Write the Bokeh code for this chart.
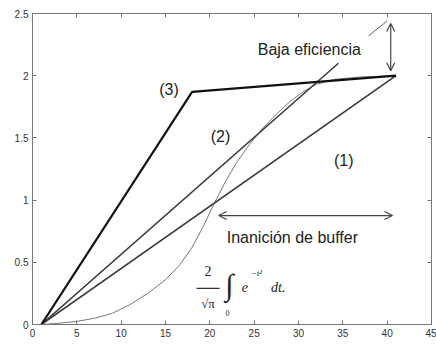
from bokeh.plotting import figure
from bokeh.models import (Range1d, FixedTicker, LinearAxis, CustomJSTickFormatter,
                          Label, Arrow, OpenHead)
from bokeh.embed import file_html
from bokeh.resources import INLINE

# ---- data ----
line1_x = [1, 41]
line1_y = [0, 2.0]
line2_x = [1, 34.5]
line2_y = [0, 2.1]
line3_x = [1, 18, 41]
line3_y = [0, 1.87, 2.0]
erf_x = [1, 3, 5, 7, 9, 11, 13, 15, 16.5, 18, 19.2, 20.4, 21.7, 23, 24.5, 26, 27.5, 29, 30.5, 32, 34, 37, 41]
erf_y = [0, 0.01, 0.025, 0.05, 0.09, 0.16, 0.25, 0.36, 0.47, 0.62, 0.78, 0.96, 1.14, 1.30, 1.45, 1.58, 1.69, 1.79, 1.87, 1.93, 1.97, 1.99, 2.0]
x_ticks = [0, 5, 10, 15, 20, 25, 30, 35, 40, 45]
y_ticks = [0, 0.5, 1, 1.5, 2, 2.5]

FRAME = "#777777"
TXT = "#222222"

p = figure(width=436, height=345, output_backend="svg", toolbar_location=None,
           x_range=Range1d(0, 45), y_range=Range1d(0, 2.5),
           min_border_left=32, min_border_right=5, min_border_top=13, min_border_bottom=21)
p.grid.visible = False
p.outline_line_color = FRAME
p.background_fill_color = "white"
p.border_fill_color = "white"

for ax in p.xaxis:
    ax.ticker = FixedTicker(ticks=x_ticks)
for ax in p.yaxis:
    ax.ticker = FixedTicker(ticks=y_ticks)
    ax.formatter = CustomJSTickFormatter(code="return tick.toString();")

def style(ax):
    ax.axis_line_color = FRAME
    ax.major_tick_line_color = FRAME
    ax.major_tick_in = 4
    ax.major_tick_out = 0
    ax.minor_tick_line_color = None
    ax.major_label_text_font = "Liberation Sans"
    ax.major_label_text_font_size = "10px"
    ax.major_label_text_color = "#333333"
    ax.major_label_standoff = 4

for ax in p.xaxis + p.yaxis:
    style(ax)

top = LinearAxis(ticker=FixedTicker(ticks=x_ticks), formatter=CustomJSTickFormatter(code="return '';"))
right = LinearAxis(ticker=FixedTicker(ticks=y_ticks), formatter=CustomJSTickFormatter(code="return '';"))
for ax in (top, right):
    style(ax)
    ax.major_label_standoff = 0
p.add_layout(top, "above")
p.add_layout(right, "right")

# curves
p.line(erf_x, erf_y, line_color="#777777", line_width=1.0)
p.line(line1_x, line1_y, line_color="#3a3a3a", line_width=1.6)
p.line(line2_x, line2_y, line_color="#3a3a3a", line_width=1.6)
p.line(line3_x, line3_y, line_color="#111111", line_width=2.2)

# annotations: arrows
p.add_layout(Arrow(start=OpenHead(size=8, line_color="#444444", line_width=1.2),
                   end=OpenHead(size=8, line_color="#444444", line_width=1.2),
                   x_start=40.4, y_start=2.04, x_end=40.4, y_end=2.42,
                   line_color="#444444", line_width=1.2))
p.add_layout(Arrow(start=OpenHead(size=8, line_color="#444444", line_width=1.2),
                   end=OpenHead(size=8, line_color="#444444", line_width=1.2),
                   x_start=21.0, y_start=0.876, x_end=40.6, y_end=0.876,
                   line_color="#444444", line_width=1.2))
p.line([37.9, 40.0], [2.32, 2.44], line_color="#666666", line_width=1)

def lab(x, y, t, size="16px", font="Liberation Sans", style="normal", align="left", base="middle", color=TXT):
    p.add_layout(Label(x=x, y=y, text=t, text_font=font, text_font_size=size,
                       text_font_style=style, text_align=align, text_baseline=base,
                       text_color=color))

lab(25.4, 2.21, "Baja eficiencia")
lab(21.9, 0.70, "Inanición de buffer")
lab(15.4, 1.89, "(3)", align="center")
lab(21.2, 1.51, "(2)", align="center")
lab(35.1, 1.32, "(1)", align="center")

# formula 2/sqrt(pi) * integral_0 e^{-t^2} dt
SER = "Liberation Serif"
lab(19.8, 0.43, "2", size="14px", font=SER, align="center")
p.line([18.5, 21.1], [0.29, 0.29], line_color="#333333", line_width=1.3)
lab(19.8, 0.17, "√π", size="13px", font=SER, align="center")
lab(22.2, 0.32, "∫", size="30px", font=SER, align="center")
lab(22.0, 0.09, "0", size="8px", font=SER, align="center")
lab(23.6, 0.30, "e", size="14px", font=SER, style="italic")
lab(24.6, 0.41, "−t²", size="9px", font=SER, style="italic")
lab(26.9, 0.30, "dt.", size="14px", font=SER, style="italic")

open("out.html", "w").write(file_html(p, INLINE))
